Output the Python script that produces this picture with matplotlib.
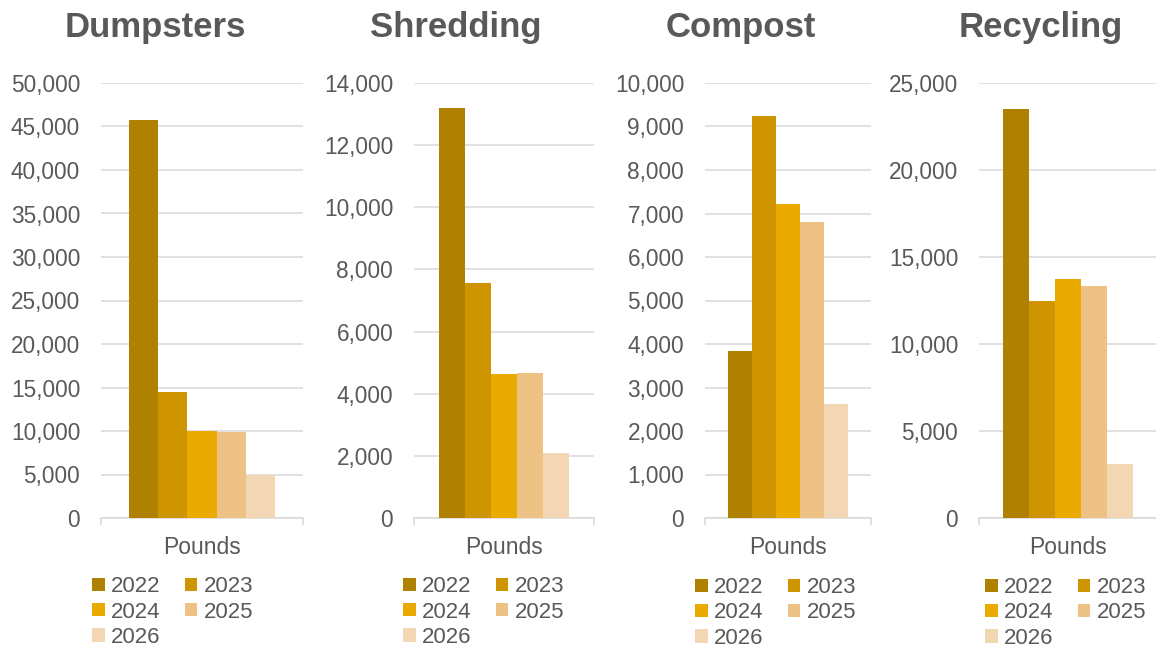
import matplotlib
matplotlib.use("Agg")
import matplotlib.pyplot as plt
from matplotlib.ticker import FuncFormatter, MultipleLocator

plt.rcParams["font.family"] = ["Liberation Sans", "DejaVu Sans"]

# --- data (pounds per year) ---
years = ["2022", "2023", "2024", "2025", "2026"]
titles = ["Dumpsters", "Shredding", "Compost", "Recycling"]
dumpsters = [45800, 14500, 10000, 9900, 4950]
shredding = [13200, 7560, 4630, 4670, 2090]
compost = [3840, 9240, 7220, 6800, 2630]
recycling = [23500, 12480, 13740, 13330, 3100]
series = [dumpsters, shredding, compost, recycling]
category = "Pounds"

ymax = [50000, 14000, 10000, 25000]
ystep = [5000, 2000, 1000, 5000]

colors = ["#B08000", "#CF9500", "#EAAA00", "#EEC185", "#F3D6B4"]
TXT = "#595959"
GRID = "#D9D9D9"

# layout in pixels (left, width) for each panel, plus title / legend centres
W, H = 1156, 649
axes_px = [(101, 202), (414, 180), (705, 166), (979, 178)]
title_x = [155, 456, 741, 1041]
legend_xy = [(173, 612), (484, 612), (776, 613), (1066, 613)]
ax_bottom, ax_top = 518, 83

fig = plt.figure(figsize=(W / 100, H / 100), dpi=100)

group = 0.725
bw = group / len(years)
# legend fills column-wise; reorder so it reads row by row like the original
leg_order = [0, 2, 4, 1, 3]

for i, vals in enumerate(series):
    left, width = axes_px[i]
    ax = fig.add_axes([left / W, 1 - ax_bottom / H, width / W, (ax_bottom - ax_top) / H])
    handles = []
    for j, v in enumerate(vals):
        x = -group / 2 + bw * (j + 0.5)
        b = ax.bar(x, v, width=bw, color=colors[j], label=years[j], zorder=3)
        handles.append(b)
    ax.set_xlim(-0.5, 0.5)
    ax.set_ylim(0, ymax[i])
    ax.yaxis.set_major_locator(MultipleLocator(ystep[i]))
    ax.yaxis.set_major_formatter(FuncFormatter(lambda v, p: f"{int(v):,}"))
    ax.grid(axis="y", color=GRID, lw=1.1, zorder=0)
    for s in ["top", "right", "left"]:
        ax.spines[s].set_visible(False)
    ax.spines["bottom"].set_color(GRID)
    ax.spines["bottom"].set_linewidth(1.1)
    ax.set_xticks([0])
    ax.set_xticklabels([category])
    ax.set_xticks([-0.5, 0.5], minor=True)
    ax.tick_params(axis="x", which="major", length=0, pad=13, labelsize=16.5, colors=TXT)
    ax.tick_params(axis="x", which="minor", length=5, width=1.1, color=GRID)
    ax.tick_params(axis="y", length=0, pad=15, labelsize=16.3, colors=TXT)

    fig.text(title_x[i] / W, 1 - 28 / H, titles[i], ha="center", va="center",
             fontsize=25, fontweight="bold", color=TXT)

    lx, ly = legend_xy[i]
    leg = fig.legend(handles=[handles[k] for k in leg_order],
                     labels=[years[k] for k in leg_order], loc="center",
                     bbox_to_anchor=(lx / W, 1 - ly / H), ncol=2, frameon=False,
                     fontsize=16, handlelength=0.55, handleheight=0.55,
                     handletextpad=0.3, columnspacing=1.1, labelspacing=0.2,
                     borderpad=0.0)
    for t in leg.get_texts():
        t.set_color(TXT)

fig.savefig("out.png", dpi=100)
